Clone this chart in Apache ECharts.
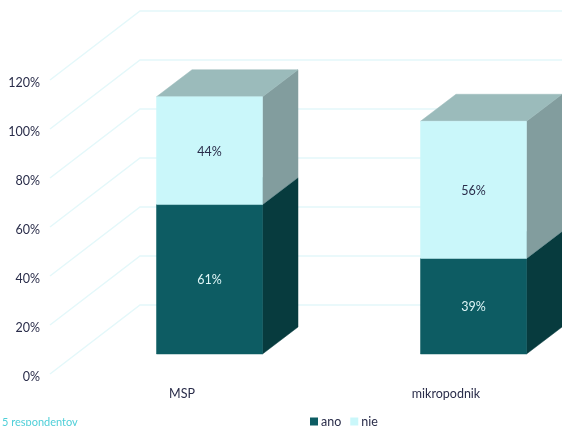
<!DOCTYPE html>
<html><head><meta charset="utf-8">
<style>html,body{margin:0;padding:0;background:#fff;overflow:hidden}#c{width:562px;height:426px}</style>
<script src="https://cdn.jsdelivr.net/npm/echarts@6/dist/echarts.min.js"></script>
</head><body><div id="c"></div>
<script>
const categories = ['MSP', 'mikropodnik'];
const ano = [61, 39];
const nie = [44, 56];
const ticks = [0, 20, 40, 60, 80, 100, 120];
const footnote = '5 respondentov';
const FONT = 'Lato, sans-serif';
const INK = '#2a2d4a';

const chart = echarts.init(document.getElementById('c'), null, {renderer: 'canvas'});

function wallItem(params, api) {
  const cs = params.coordSys;
  const p = api.coord([0, api.value(1)]);
  return {
    type: 'polyline', silent: true,
    shape: {points: [[cs.x, p[1]], [cs.x + 90, p[1] - 69], [cs.x + cs.width + 20, p[1] - 69]]},
    style: {stroke: '#e4f8fa', lineWidth: 1.5, fill: null}
  };
}
function boxItem(colors, textColor, baseFn) {
  return function (params, api) {
    const i = api.value(0), v = api.value(1), base = baseFn(i);
    const c0 = api.coord([i, base]), c1 = api.coord([i, base + v]);
    const ox = 27.5, oy = -20, hw = 53, dx = 35.5, dy = -27;
    const L = c0[0] + ox - hw, R = c0[0] + ox + hw, B = c0[1] + oy, T = c1[1] + oy;
    const poly = (pts, fill) => ({type: 'polygon', shape: {points: pts}, style: {fill, stroke: fill, lineWidth: 0.5}});
    return {type: 'group', children: [
      poly([[R, B], [R + dx, B + dy], [R + dx, T + dy], [R, T]], colors.side),
      poly([[L, T], [R, T], [R + dx, T + dy], [L + dx, T + dy]], colors.top),
      poly([[L, B], [R, B], [R, T], [L, T]], colors.front),
      {type: 'text', style: {text: v + '%', x: (L + R) / 2, y: (T + B) / 2 + 1, align: 'center', verticalAlign: 'middle',
        fill: textColor, font: '12.5px ' + FONT}}
    ]};
  };
}
chart.setOption({
  animation: false,
  backgroundColor: '#fff',
  grid: {left: 50, top: 80, width: 528, height: 294, containLabel: false, outerBoundsMode: 'none'},
  xAxis: {type: 'category', data: categories,
    axisLine: {show: false}, axisTick: {show: false},
    axisLabel: {color: INK, fontFamily: FONT, fontSize: 12.5, margin: 13}},
  yAxis: {type: 'value', min: 0, max: 120, interval: 20,
    axisLine: {show: false}, axisTick: {show: false}, splitLine: {show: false},
    axisLabel: {margin: 10, formatter: '{a|{value}%}',
      rich: {a: {color: INK, fontFamily: FONT, fontSize: 12.5, padding: [5, 0, 0, 0]}}}},
  legend: {data: ['ano', 'nie'], left: 310, top: 415, padding: 0, itemWidth: 8, itemHeight: 8, itemGap: 9,
    icon: 'rect', textStyle: {color: INK, fontFamily: FONT, fontSize: 12.5, padding: [0, 0, 0, -2]}},
  title: {text: footnote, left: 2, top: 417, padding: 0,
    textStyle: {color: '#4fcfd8', fontFamily: FONT, fontSize: 11, fontWeight: 'normal'}},
  series: [
    {type: 'custom', name: 'grid', silent: true, z: 1, clip: false, renderItem: wallItem,
     encode: {x: 0, y: 1}, data: ticks.map(t => [0, t])},
    {type: 'custom', name: 'ano', z: 2, clip: false, itemStyle: {color: '#0d5c63'},
     renderItem: boxItem({front: '#0d5c63', side: '#073b3e', top: '#0a4a50'}, '#dff6f7', () => 0),
     encode: {x: 0, y: 1}, data: ano.map((v, i) => [i, v])},
    {type: 'custom', name: 'nie', z: 3, clip: false, itemStyle: {color: '#caf7fa'},
     renderItem: boxItem({front: '#caf7fa', side: '#829d9e', top: '#9bbbbb'}, INK, i => ano[i]),
     encode: {x: 0, y: 1}, data: nie.map((v, i) => [i, v])}
  ]
});
</script></body></html>
